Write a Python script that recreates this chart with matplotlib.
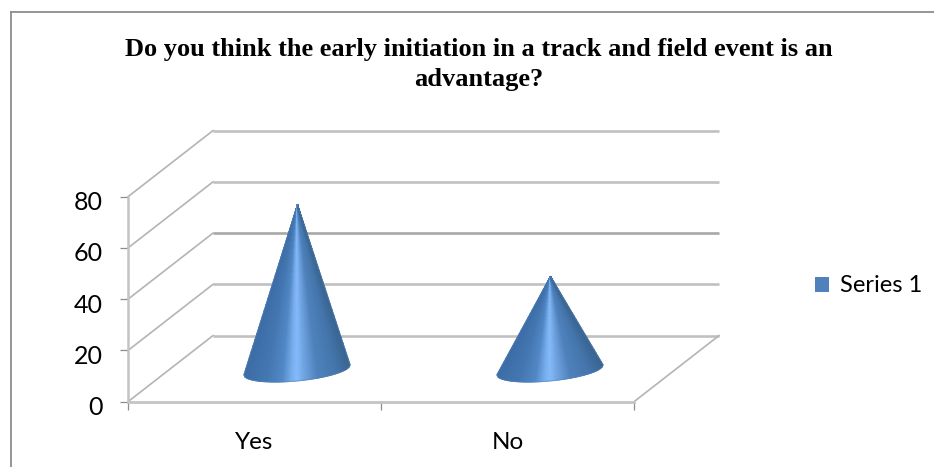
#!/usr/bin/env python3
"""Cone chart in the old Excel 3D style, drawn on one flat axes."""

import numpy as np
import matplotlib
matplotlib.use("Agg")
import matplotlib.pyplot as plt
from matplotlib.colors import LinearSegmentedColormap
from matplotlib.lines import Line2D
from matplotlib.patches import Patch
from matplotlib.transforms import ScaledTranslation

categories = ["Yes", "No"]
values = [64, 36]
y_ticks = [0, 20, 40, 60, 80]
series_name = "Series 1"
title = "Do you think the early initiation in a track and field event is an\nadvantage?"

W, H = 934, 467

# depth of the fake 3D box, in data units (one category wide, y in value units)
DEPTH_X = 0.336
DEPTH_Y = 25.8
GRID = "#c0c0c0"
DIAG = "#b4b4b4"

cone_cmap = LinearSegmentedColormap.from_list("cone", [
    (0.0, "#3d6da6"), (0.2, "#4477b2"), (0.36, "#5288c6"), (0.45, "#78aeec"),
    (0.5, "#85bcff"), (0.56, "#74a8e4"), (0.7, "#4f82bd"), (0.88, "#4475ab"),
    (1.0, "#3a6592"),
])

fig = plt.figure(figsize=(W / 100, H / 100), dpi=100, facecolor="white")
ax = fig.add_axes([128 / W, 1 - 401.7 / H, (634 - 128) / W, (401.7 - 196.7) / H])
ax.set_xlim(-0.5, len(categories) - 0.5)
ax.set_ylim(y_ticks[0], y_ticks[-1])
ax.patch.set_visible(False)
for spine in ax.spines.values():
    spine.set_visible(False)

x_left, x_right = ax.get_xlim()

# walls and floor
for v in y_ticks:
    ax.plot([x_left + DEPTH_X, x_right + DEPTH_X], [v + DEPTH_Y, v + DEPTH_Y],
            color="#a8a8a8" if v == 40 else GRID, lw=1.9, clip_on=False, zorder=1,
            solid_capstyle="butt")
    ax.plot([x_left, x_left + DEPTH_X], [v, v + DEPTH_Y], color=DIAG, lw=1.2,
            clip_on=False, zorder=1)
ax.plot([x_right, x_right + DEPTH_X], [0, DEPTH_Y], color=DIAG, lw=1.2, clip_on=False, zorder=1)
ax.plot([x_left, x_left], [0, y_ticks[-1]], color="#c4c4c4", lw=1.8, clip_on=False, zorder=2)
ax.plot([x_left, x_right], [0, 0], color="#c4c4c4", lw=2.0, clip_on=False, zorder=2)

# cones: quads run from the base curve up to the apex, coloured across the width
half_width = 0.21
base_minor = 4.3
base_tilt = 1.95
u = np.linspace(0, 1, 81)
t = np.linspace(0, 1, 30)
for i, val in enumerate(values):
    cx = i + DEPTH_X / 2
    cy = DEPTH_Y / 2 - 0.5
    s = 2 * u - 1
    base_x = cx + half_width * s
    base_y = cy - base_minor * np.sqrt(1 - s ** 2) + base_tilt * s
    top_x, top_y = cx + 0.002, val + DEPTH_Y / 2
    X = top_x + np.outer(t, base_x - top_x)
    Y = top_y + np.outer(t, base_y - top_y)
    C = np.tile(u, (len(t), 1))
    ax.pcolormesh(X, Y, C, shading="gouraud", cmap=cone_cmap, vmin=0, vmax=1,
                  zorder=3, clip_on=False)
    ax.plot(np.r_[top_x, base_x, top_x], np.r_[top_y, base_y, top_y], color="#5583b8",
            lw=0.7, alpha=0.55, zorder=4, clip_on=False)

# ticks
ax.set_yticks(y_ticks)
ax.set_yticklabels([str(v) for v in y_ticks], family="Lato", size=18)
ax.set_xticks(range(len(categories)))
ax.set_xticklabels(categories, family="Lato", size=17.5)
ax.set_xticks(np.arange(x_left, x_right + 0.5), minor=True)
ax.tick_params(axis="x", which="major", length=0, pad=22, colors="black")
ax.tick_params(axis="x", which="minor", length=6, width=0.9, color="#8c8c8c")
ax.tick_params(axis="y", length=6, width=0.9, color="#8c8c8c", pad=12, labelcolor="black")

# digits sit a little under their tick in the original
shift = ScaledTranslation(0, -4 / 100, fig.dpi_scale_trans)
for lab in ax.get_yticklabels():
    lab.set_transform(lab.get_transform() + shift)

# outer frame, only top and left reach the picture
fig.add_artist(Line2D([10.5 / W, 10.5 / W], [0, 1 - 11.5 / H], color="#8c8c8c", lw=1.3))
fig.add_artist(Line2D([10.5 / W, 1], [1 - 11.5 / H, 1 - 11.5 / H], color="#8c8c8c", lw=1.3))

fig.text(479 / W, 1 - 64.5 / H, title, ha="center", va="center", family="Liberation Serif",
         weight="bold", size=19, linespacing=1.39, color="black")

handle = Patch(facecolor="#4f81bd", edgecolor="none")
fig.legend([handle], [series_name], loc="center left", bbox_to_anchor=(808 / W, 1 - 286 / H),
           frameon=False, prop={"family": "Lato", "size": 17}, handlelength=0.6,
           handleheight=0.6, handletextpad=0.47, borderpad=0.3, borderaxespad=0)

fig.savefig("out.png", dpi=100, facecolor="white")
